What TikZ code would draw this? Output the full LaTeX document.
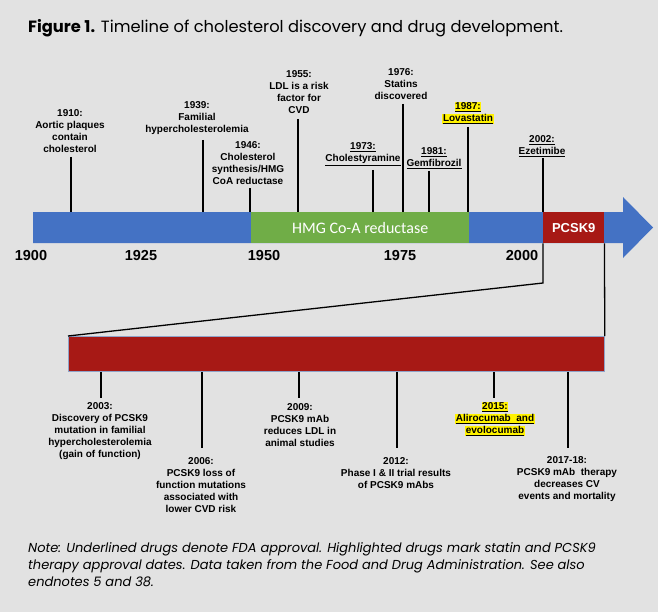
\documentclass[tikz,border=0pt]{standalone}
\usepackage{fontspec}
\setmainfont{Liberation Sans}
\newfontfamily\capfont{Poppins}
\newfontfamily\barfont{Carlito}
\usetikzlibrary{positioning}

\definecolor{bgcol}{HTML}{E2E2E2}
\definecolor{barblue}{HTML}{4472C4}
\definecolor{bargreen}{HTML}{70AD47}
\definecolor{barred}{HTML}{A71915}
\definecolor{edgeblue}{HTML}{8FA3C9}

% highlighted + underlined text
\newcommand\hlu[1]{{\setlength{\fboxsep}{0.6bp}\colorbox{yellow}{\underline{#1}}}}

\tikzset{
  toplbl/.style={align=center, inner sep=0pt, font=\bfseries\fontsize{10bp}{12bp}\selectfont},
  lowlbl/.style={align=center, inner sep=0pt, font=\bfseries\fontsize{10bp}{12bp}\selectfont},
  yearlbl/.style={inner sep=0pt, font=\bfseries\fontsize{14.5bp}{16bp}\selectfont},
  tick/.style={draw=black, line width=1.6bp},
  zoomline/.style={draw=black, line width=1.3bp},
  barbox/.style={inner sep=0pt, anchor=north west, text=white, minimum height=31bp},
}

\begin{document}
\begin{tikzpicture}[x=1bp, y=-1bp, line join=miter]
  \useasboundingbox (0,0) rectangle (658,612);
  \path[fill=bgcol] (0,0) rectangle (658,612);

  % title
  \node[anchor=west, inner sep=0pt, font=\capfont\fontsize{16.3bp}{19bp}\selectfont] (title) at (28,28)
    {\textbf{Figure 1.} Timeline of cholesterol discovery and drug development.};

  % main timeline bar
  \path[fill=barblue] (33,212) -- (623,212) -- (623,197) -- (653,227.5) -- (623,258) -- (623,243) -- (33,243) -- cycle;
  \node[barbox, fill=bargreen, minimum width=218bp, font=\barfont\fontsize{16bp}{18bp}\selectfont] (hmg) at (251,212) {HMG Co-A reductase};
  \node[barbox, fill=barred, minimum width=61bp, font=\bfseries\fontsize{13bp}{15bp}\selectfont] (pcsk) at (543,212) {PCSK9};

  % years
  \node[yearlbl] (y1900) at (31,256) {1900};
  \node[yearlbl] (y1925) at (141,256) {1925};
  \node[yearlbl] (y1950) at (264,256) {1950};
  \node[yearlbl] (y1975) at (400,256) {1975};
  \node[yearlbl] (y2000) at (522,256) {2000};

  % events above the bar
  \node[toplbl] (l1910) at (70,131) {1910:\\Aortic plaques\\contain\\cholesterol};
  \node[toplbl] (l1939) at (197,118) {1939:\\Familial\\hypercholesterolemia};
  \node[toplbl] (l1946) at (248,163) {1946:\\Cholesterol\\synthesis/HMG\\CoA reductase};
  \node[toplbl] (l1955) at (299,92) {1955:\\LDL is a risk\\factor for\\CVD};
  \node[toplbl] (l1973) at (363,154.5) {\underline{1973:}\\\underline{Cholestyramine}};
  \node[toplbl] (l1976) at (401,84) {1976:\\Statins\\discovered};
  \node[toplbl] (l1981) at (434,158) {\underline{1981:}\\\underline{Gemfibrozil}};
  \node[toplbl] (l1987) at (468,113) {\hlu{1987:}\\\hlu{Lovastatin}};
  \node[toplbl] (l2002) at (542,146) {\underline{2002:}\\\underline{Ezetimibe}};

  \coordinate (t1910) at (70.7,157);
  \coordinate (t1939) at (203,140);
  \coordinate (t1946) at (250,188);
  \coordinate (t1955) at (298,119);
  \coordinate (t1973) at (373,170);
  \coordinate (t1976) at (403,104);
  \coordinate (t1981) at (429,171);
  \coordinate (t1987) at (468,127);
  \coordinate (t2002) at (543,158);
  \draw[tick] (t1910) -- (t1910 |- hmg.north);
  \draw[tick] (t1939) -- (t1939 |- hmg.north);
  \draw[tick] (t1946) -- (t1946 |- hmg.north);
  \draw[tick] (t1955) -- (t1955 |- hmg.north);
  \draw[tick] (t1973) -- (t1973 |- hmg.north);
  \draw[tick] (t1976) -- (t1976 |- hmg.north);
  \draw[tick] (t1981) -- (t1981 |- hmg.north);
  \draw[tick] (t1987) -- (t1987 |- hmg.north);
  \draw[tick] (t2002) -- (t2002 |- pcsk.north);

  % PCSK9 detail bar
  \node[fill=barred, draw=edgeblue, line width=0.8bp, minimum width=536bp, minimum height=35bp, inner sep=0pt, anchor=north west] (zbar) at (68,336) {};
  \coordinate (bend) at (543,283);
  \draw[zoomline] (pcsk.south west) -- (bend) -- (zbar.north west);
  \draw[zoomline] (pcsk.south east) -- (zbar.north east);

  % events below the detail bar
  \node[lowlbl] (l2003) at (100,431) {2003:\\Discovery of PCSK9\\mutation in familial\\hypercholesterolemia\\(gain of function)};
  \node[lowlbl] (l2006) at (201,485) {2006:\\PCSK9 loss of\\function mutations\\associated with\\lower CVD risk};
  \node[lowlbl] (l2009) at (300,425) {2009:\\PCSK9 mAb\\reduces LDL in\\animal studies};
  \node[lowlbl] (l2012) at (396,473.5) {2012:\\Phase I \& II trial results\\of PCSK9 mAbs};
  \node[lowlbl] (l2015) at (495,419) {\hlu{2015:}\\\hlu{Alirocumab\ \ and}\\\hlu{evolocumab}};
  \node[lowlbl] (l2017) at (567,479) {2017-18:\\PCSK9 mAb\ \ therapy\\decreases CV\\events and mortality};

  \coordinate (t2003) at (101,398);
  \coordinate (t2006) at (202,448);
  \coordinate (t2009) at (299,398);
  \coordinate (t2012) at (397,448);
  \coordinate (t2015) at (494,398);
  \coordinate (t2017) at (568,448);
  \draw[tick] (t2003 |- zbar.south) -- (t2003);
  \draw[tick] (t2006 |- zbar.south) -- (t2006);
  \draw[tick] (t2009 |- zbar.south) -- (t2009);
  \draw[tick] (t2012 |- zbar.south) -- (t2012);
  \draw[tick] (t2015 |- zbar.south) -- (t2015);
  \draw[tick] (t2017 |- zbar.south) -- (t2017);

  % note
  \node[anchor=north west, align=left, inner sep=0pt, font=\capfont\itshape\fontsize{13bp}{17bp}\selectfont] (note) at (28,542)
    {Note: Underlined drugs denote FDA approval. Highlighted drugs mark statin and PCSK9\\
     therapy approval dates. Data taken from the Food and Drug Administration. See also\\
     endnotes 5 and 38.};
\end{tikzpicture}
\end{document}
